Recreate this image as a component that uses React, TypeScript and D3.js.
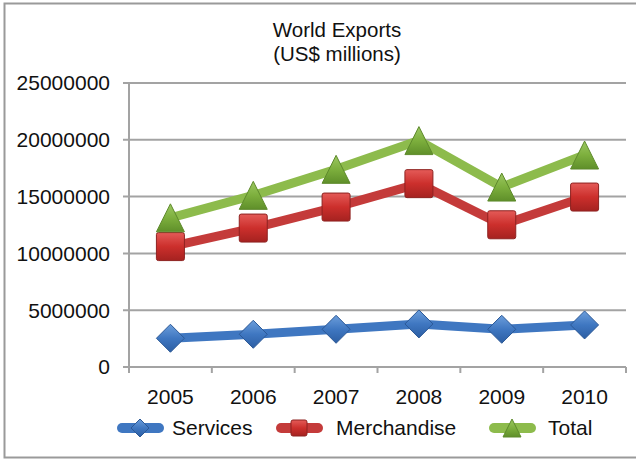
import React from "react";
import * as d3 from "d3";

const years = ["2005", "2006", "2007", "2008", "2009", "2010"];
const services = [2530000, 2880000, 3320000, 3790000, 3320000, 3700000];
const merchandise = [10600000, 12230000, 14080000, 16140000, 12520000, 14960000];
const total = [13130000, 15110000, 17400000, 19930000, 15840000, 18660000];
const yTicks = [0, 5000000, 10000000, 15000000, 20000000, 25000000];
const titleLines = ["World Exports", "(US$ millions)"];
const seriesNames = ["Services", "Merchandise", "Total"];

const W = 636;
const H = 459;
const FONT = "'Liberation Sans', Arial, Helvetica, sans-serif";

export default function App() {
  const x = d3.scaleBand<string>().domain(years).range([129, 626]).padding(0);
  const y = d3.scaleLinear().domain([0, 25000000]).range([367, 83]);
  const cx = (yr: string) => (x(yr) as number) + x.bandwidth() / 2;

  const line = d3
    .line<number>()
    .x((_, i) => cx(years[i]))
    .y((d) => y(d));

  const series = [
    { name: seriesNames[0], values: services, color: "#3F77C1", shape: "diamond", grad: "gBlue", stroke: "#2B5896" },
    { name: seriesNames[1], values: merchandise, color: "#C43B3A", shape: "square", grad: "gRed", stroke: "#8E2220" },
    { name: seriesNames[2], values: total, color: "#8DBB4C", shape: "triangle", grad: "gGreen", stroke: "#5E8A2C" },
  ];

  const marker = (shape: string, px: number, py: number, s: number, fill: string, stroke: string, key: string) => {
    const h = s / 2;
    if (shape === "diamond") {
      return (
        <path key={key} d={`M${px},${py - h}L${px + h},${py}L${px},${py + h}L${px - h},${py}Z`} fill={`url(#${fill})`} stroke={stroke} strokeWidth={1} />
      );
    }
    if (shape === "square") {
      return (
        <rect key={key} x={px - h} y={py - h} width={s} height={s} rx={2} fill={`url(#${fill})`} stroke={stroke} strokeWidth={1} />
      );
    }
    return (
      <path key={key} d={`M${px},${py - h}L${px + h},${py + h}L${px - h},${py + h}Z`} fill={`url(#${fill})`} stroke={stroke} strokeWidth={1} />
    );
  };

  const legendItems = [
    { x0: 117, tx: 172 },
    { x0: 276, tx: 336 },
    { x0: 489, tx: 548 },
  ];
  const legendY = 428;

  return (
    <div style={{ position: "absolute", left: 0, top: 0 }}>
      <svg width={W} height={H} style={{ display: "block", background: "#fff" }}>
        <defs>
          <linearGradient id="gBlue" x1="0" y1="0" x2="0" y2="1">
            <stop offset="0" stopColor="#6C9EDB" />
            <stop offset="0.5" stopColor="#3F77C1" />
            <stop offset="1" stopColor="#2C5EA3" />
          </linearGradient>
          <linearGradient id="gRed" x1="0" y1="0" x2="0" y2="1">
            <stop offset="0" stopColor="#E45B58" />
            <stop offset="0.5" stopColor="#CC2F2C" />
            <stop offset="1" stopColor="#A52220" />
          </linearGradient>
          <linearGradient id="gGreen" x1="0" y1="0" x2="0" y2="1">
            <stop offset="0" stopColor="#9CC862" />
            <stop offset="0.5" stopColor="#7DAF3D" />
            <stop offset="1" stopColor="#5F8F2A" />
          </linearGradient>
        </defs>

        <rect x={4.5} y={3.5} width={W + 20} height={454} fill="none" stroke="#9a9a9a" strokeWidth={2} />

        {titleLines.map((t, i) => (
          <text key={t} x={337} y={37 + i * 24} textAnchor="middle" fontFamily={FONT} fontSize={20.5} fill="#111">
            {t}
          </text>
        ))}

        {yTicks.map((t) => (
          <g key={t}>
            <line x1={123} x2={626} y1={y(t)} y2={y(t)} stroke="#a3a3a3" strokeWidth={2} />
            <text x={110} y={y(t)} dy="0.35em" textAnchor="end" fontFamily={FONT} fontSize={21} fill="#111">
              {t}
            </text>
          </g>
        ))}

        <line x1={129} x2={129} y1={83} y2={367} stroke="#a3a3a3" strokeWidth={2} />
        {years.map((yr) => (
          <line key={"t" + yr} x1={x(yr) as number} x2={x(yr) as number} y1={367} y2={373} stroke="#a3a3a3" strokeWidth={2} />
        ))}
        <line x1={626} x2={626} y1={367} y2={373} stroke="#a3a3a3" strokeWidth={2} />

        {years.map((yr) => (
          <text key={"l" + yr} x={cx(yr)} y={404} textAnchor="middle" fontFamily={FONT} fontSize={21} fill="#111">
            {yr}
          </text>
        ))}

        {series.map((s) => (
          <path key={s.name} d={line(s.values) || ""} fill="none" stroke={s.color} strokeWidth={9} strokeLinejoin="round" />
        ))}
        {series.map((s) =>
          s.values.map((v, i) => marker(s.shape, cx(years[i]), y(v), 28, s.grad, s.stroke, s.name + i))
        )}

        {series.map((s, i) => {
          const it = legendItems[i];
          const mid = it.x0 + 23;
          return (
            <g key={"lg" + s.name}>
              <line x1={it.x0 + 5} x2={it.x0 + 42} y1={legendY} y2={legendY} stroke={s.color} strokeWidth={10} strokeLinecap="round" />
              {marker(s.shape, mid, legendY, s.shape === "square" ? 16 : 18, s.grad, s.stroke, "lm" + i)}
              <text x={it.tx} y={legendY} dy="0.35em" fontFamily={FONT} fontSize={21} fill="#111">
                {s.name}
              </text>
            </g>
          );
        })}
      </svg>
    </div>
  );
}
